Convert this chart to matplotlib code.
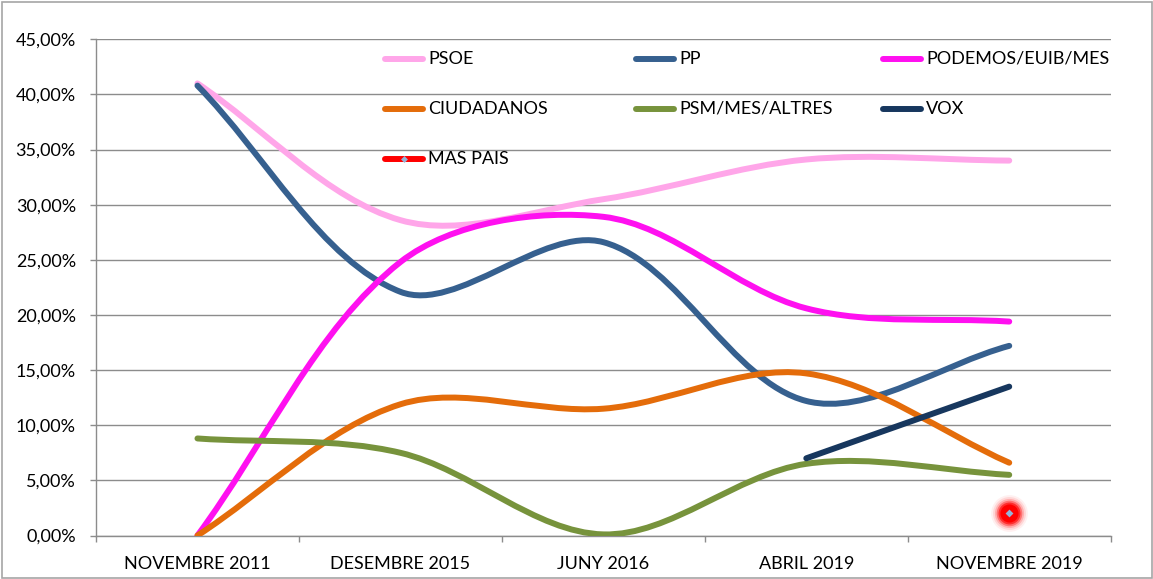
import numpy as np
import matplotlib
matplotlib.use("Agg")
import matplotlib.pyplot as plt
from matplotlib.path import Path
from matplotlib.patches import PathPatch, Rectangle
from matplotlib.lines import Line2D
from matplotlib.ticker import FuncFormatter, FixedLocator

plt.rcParams['font.family'] = ['Lato', 'DejaVu Sans']

categories = ["NOVEMBRE 2011", "DESEMBRE 2015", "JUNY 2016", "ABRIL 2019", "NOVEMBRE 2019"]
nan = np.nan
psoe = [41.0, 28.6, 30.5, 34.1, 34.0]
pp = [40.8, 22.1, 26.6, 12.2, 17.2]
podemos = [0.0, 24.8, 28.9, 20.6, 19.4]
ciudadanos = [0.0, 11.9, 11.5, 14.7, 6.6]
psm = [8.8, 7.5, 0.1, 6.5, 5.5]
vox = [nan, nan, nan, 7.0, 13.5]
mas_pais = [nan, nan, nan, nan, 2.0]

series = [
    ("PSOE", psoe, "#FFA6E9"),
    ("PP", pp, "#36608F"),
    ("PODEMOS/EUIB/MES", podemos, "#FF10F0"),
    ("CIUDADANOS", ciudadanos, "#E46C0A"),
    ("PSM/MES/ALTRES", psm, "#77933C"),
    ("VOX", vox, "#17375E"),
    ("MAS PAIS", mas_pais, "#FF0000"),
]

W, H = 1153, 579
fig = plt.figure(figsize=(W / 100, H / 100), dpi=100)
ax = fig.add_axes([96 / W, 1 - 535.5 / H, (1110.7 - 96) / W, (535.5 - 39.3) / H])
ax.set_xlim(-0.5, len(categories) - 0.5)
ax.set_ylim(0, 45)

def smooth_path(xs, ys):
    # spreadsheet-style smoothed line: chord-weighted Catmull-Rom Bezier,
    # chord lengths measured in display space
    pts = np.column_stack([xs, ys])
    disp = ax.transData.transform(pts)
    n = len(pts)
    def d(i, j):
        return np.hypot(*(disp[j] - disp[i]))
    verts = [tuple(pts[0])]
    codes = [Path.MOVETO]
    for i in range(n - 1):
        i0 = max(i - 1, 0)
        i3 = min(i + 2, n - 1)
        p0, p1, p2, p3 = pts[i0], pts[i], pts[i + 1], pts[i3]
        d01, d12, d23 = d(i0, i), d(i, i + 1), d(i + 1, i3)
        f1 = d12 / (d01 + d12) / 3.0
        f2 = d12 / (d12 + d23) / 3.0
        c1 = p1 + (p2 - p0) * f1
        c2 = p2 - (p3 - p1) * f2
        verts += [tuple(c1), tuple(c2), tuple(p2)]
        codes += [Path.CURVE4] * 3
    return Path(verts, codes)

x_all = np.arange(len(categories))
lw = 4.3
for name, vals, col in series:
    v = np.array(vals, dtype=float)
    m = ~np.isnan(v)
    xs, ys = x_all[m], v[m]
    if len(xs) >= 2:
        p = smooth_path(xs.astype(float), ys)
        patch = PathPatch(p, facecolor='none', edgecolor=col, lw=lw,
                          capstyle='round', joinstyle='round', zorder=3)
        ax.add_patch(patch)
    elif len(xs) == 1:
        for s, a in [(700, 0.06), (560, 0.10), (440, 0.18), (340, 0.35), (250, 0.6), (170, 1.0)]:
            ax.scatter(xs, ys, s=s, color=col, alpha=a, linewidths=0, zorder=4)
        ax.scatter(xs, ys, s=16, marker='D', color='#95B3D7', linewidths=0, zorder=5)

ax.set_yticks(np.arange(0, 46, 5))
ax.yaxis.set_major_formatter(FuncFormatter(lambda v, p: f"{v:.2f}".replace('.', ',') + '%'))
ax.set_xticks(x_all)
ax.set_xticklabels(categories)
ax.xaxis.set_minor_locator(FixedLocator(np.arange(-0.5, len(categories), 1.0)))
ax.tick_params(axis='x', which='major', length=0, pad=15, labelsize=13, colors='black')
ax.tick_params(axis='x', which='minor', length=4.5, width=1, color='#8c8c8c', direction='out')
ax.tick_params(axis='y', length=4.5, width=1, color='#8c8c8c', pad=10, labelsize=13, labelcolor='black')
ax.grid(axis='y', color='#8c8c8c', lw=1.0)
ax.set_axisbelow(True)
for s in ['top', 'right']:
    ax.spines[s].set_visible(False)
for s in ['left', 'bottom']:
    ax.spines[s].set_color('#8c8c8c')
    ax.spines[s].set_linewidth(1.0)

# manual legend
col_x = [382, 633, 880]
row_y = [59, 109, 159]
hlen = 44
for i, (name, vals, col) in enumerate(series):
    cx = col_x[i % 3]
    cy = row_y[i // 3]
    x0, x1 = (cx + 3) / W, (cx + hlen - 3) / W
    yy = 1 - cy / H
    fig.add_artist(Line2D([x0, x1], [yy, yy], transform=fig.transFigure, color=col,
                          lw=lw, solid_capstyle='round', zorder=5))
    if name == "MAS PAIS":
        fig.add_artist(Line2D([(x0 + x1) / 2], [yy], transform=fig.transFigure, marker='D',
                              markersize=3.5, color='#95B3D7', markeredgewidth=0, zorder=6))
    fig.text((cx + hlen + 2) / W, yy, name, ha='left', va='center', fontsize=13, color='black')

# outer frame
fig.add_artist(Rectangle((1.5 / W, 1.5 / H), (W - 3) / W, (H - 3) / H, transform=fig.transFigure,
                         fill=False, edgecolor='#a6a6a6', lw=1.2))

fig.savefig("out.png", dpi=100)
